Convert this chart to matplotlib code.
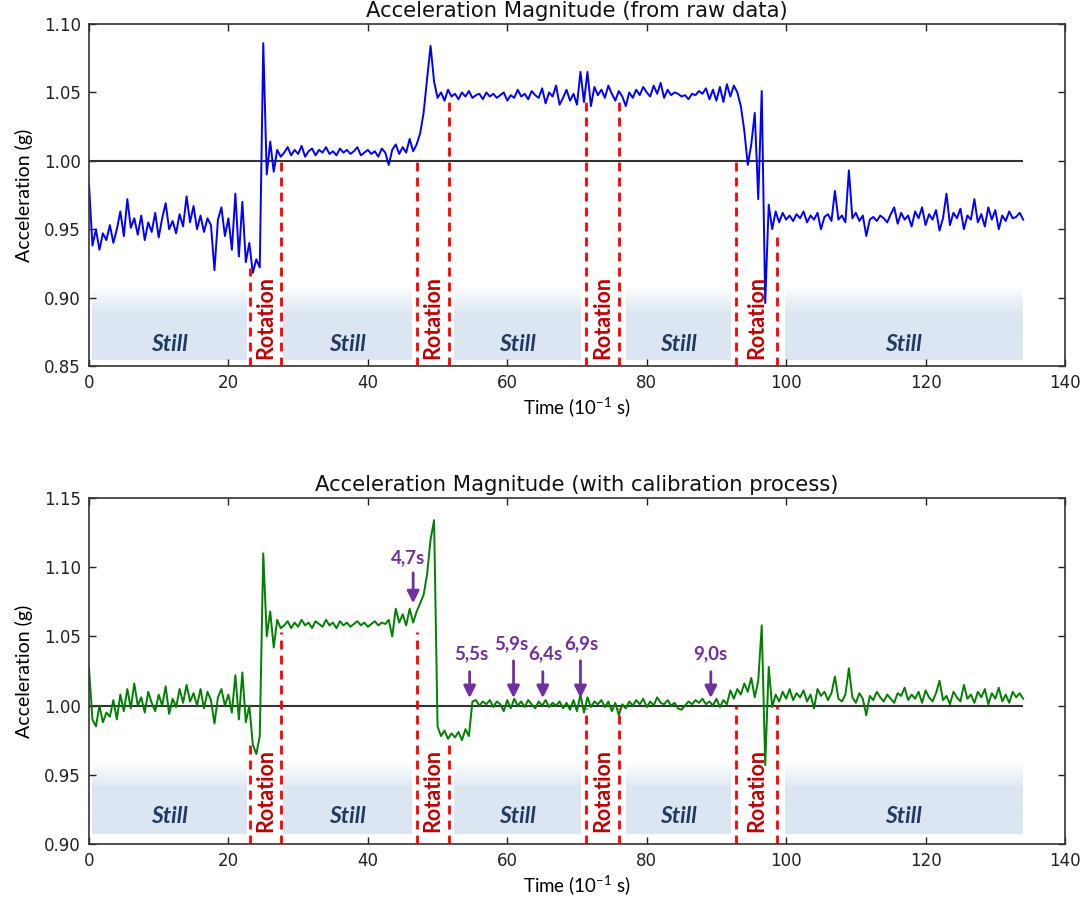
import numpy as np
import matplotlib
matplotlib.use('Agg')
import matplotlib.pyplot as plt
from matplotlib.colors import to_rgb

# ---------------- data ----------------
STEP = 0.5  # sample spacing (10^-1 s)

raw_vals = [
    # 0 .. 22.5
    0.983, 0.938, 0.950, 0.935, 0.947, 0.942, 0.953, 0.940, 0.950, 0.963,
    0.945, 0.972, 0.951, 0.958, 0.946, 0.960, 0.942, 0.955, 0.948, 0.962,
    0.944, 0.958, 0.969, 0.950, 0.956, 0.947, 0.961, 0.952, 0.974, 0.955,
    0.967, 0.950, 0.960, 0.948, 0.958, 0.953, 0.920, 0.957, 0.966, 0.945,
    0.958, 0.935, 0.976, 0.930, 0.970, 0.926,
    # 23 .. 27.5
    0.940, 0.918, 0.928, 0.922, 1.086, 0.990, 1.014, 0.992, 1.008, 1.003,
    # 28 .. 47.5
    1.006, 1.010, 1.004, 1.008, 1.005, 1.011, 1.003, 1.007, 1.009, 1.004,
    1.008, 1.006, 1.010, 1.005, 1.007, 1.004, 1.009, 1.006, 1.008, 1.005,
    1.007, 1.010, 1.004, 1.006, 1.008, 1.005, 1.007, 1.003, 1.009, 1.006,
    0.997, 1.008, 1.012, 1.005, 1.010, 1.006, 1.016, 1.007, 1.012, 1.020,
    # 48 .. 52.5
    1.035, 1.060, 1.084, 1.058, 1.046, 1.050, 1.044, 1.052, 1.047, 1.049,
    # 53 .. 72.5
    1.045, 1.050, 1.047, 1.051, 1.046, 1.048, 1.049, 1.045, 1.050, 1.047,
    1.049, 1.046, 1.048, 1.050, 1.044, 1.048, 1.046, 1.052, 1.047, 1.049,
    1.045, 1.051, 1.048, 1.046, 1.053, 1.042, 1.050, 1.047, 1.055, 1.041,
    1.046, 1.052, 1.044, 1.049, 1.041, 1.065, 1.043, 1.065, 1.040, 1.054,
    # 73 .. 92.5
    1.048, 1.052, 1.046, 1.055, 1.049, 1.044, 1.051, 1.047, 1.040, 1.050,
    1.046, 1.052, 1.048, 1.054, 1.050, 1.047, 1.055, 1.049, 1.057, 1.046,
    1.052, 1.048, 1.050, 1.049, 1.047, 1.048, 1.045, 1.049, 1.048, 1.051,
    1.049, 1.053, 1.045, 1.052, 1.044, 1.054, 1.043, 1.056, 1.047, 1.055,
    # 93 .. 97.5
    1.050, 1.040, 1.022, 0.997, 1.012, 1.035, 0.972, 1.051, 0.896, 0.968,
    # 98 .. 134
    0.950, 0.963, 0.955, 0.962, 0.957, 0.960, 0.956, 0.961, 0.958, 0.963,
    0.955, 0.960, 0.957, 0.962, 0.950, 0.959, 0.961, 0.956, 0.978, 0.957,
    0.960, 0.955, 0.993, 0.958, 0.962, 0.956, 0.960, 0.945, 0.957, 0.959,
    0.956, 0.960, 0.958, 0.955, 0.961, 0.966, 0.954, 0.962, 0.957, 0.960,
    0.952, 0.963, 0.958, 0.966, 0.953, 0.961, 0.957, 0.964, 0.949, 0.958,
    0.976, 0.953, 0.962, 0.958, 0.965, 0.950, 0.960, 0.957, 0.972, 0.955,
    0.961, 0.952, 0.966, 0.957, 0.964, 0.950, 0.960, 0.956, 0.963, 0.958,
    0.959, 0.962, 0.957,
]

cal_vals = [
    # 0 .. 22.5
    1.027, 0.990, 0.985, 1.000, 0.988, 0.995, 0.992, 1.004, 0.990, 1.008,
    0.996, 1.012, 0.998, 1.016, 1.000, 1.006, 0.995, 1.010, 1.002, 0.996,
    1.008, 1.000, 1.014, 0.994, 1.005, 0.999, 1.012, 1.002, 1.015, 1.003,
    1.009, 1.000, 1.012, 0.998, 1.010, 1.004, 0.987, 1.006, 1.012, 1.000,
    1.008, 0.995, 1.022, 0.990, 1.024, 0.988,
    # 23 .. 27.5
    1.000, 0.972, 0.965, 0.978, 1.110, 1.050, 1.068, 1.042, 1.062, 1.056,
    # 28 .. 47.5
    1.058, 1.061, 1.056, 1.060, 1.057, 1.062, 1.058, 1.060, 1.056, 1.061,
    1.059, 1.057, 1.062, 1.058, 1.060, 1.056, 1.061, 1.058, 1.060, 1.057,
    1.059, 1.061, 1.058, 1.060, 1.057, 1.059, 1.061, 1.058, 1.060, 1.059,
    1.062, 1.050, 1.070, 1.060, 1.066, 1.058, 1.070, 1.060, 1.068, 1.074,
    # 48 .. 52.5
    1.080, 1.095, 1.120, 1.134, 0.985, 0.978, 0.982, 0.976, 0.980, 0.977,
    # 53 .. 72.5
    0.981, 0.975, 0.983, 0.978, 1.003, 1.004, 1.000, 1.003, 1.001, 1.004,
    0.999, 1.003, 1.001, 0.996, 1.004, 0.998, 1.005, 1.000, 1.003, 0.999,
    1.004, 1.001, 0.998, 1.003, 1.000, 1.004, 0.999, 1.002, 1.000, 1.003,
    0.998, 1.002, 0.997, 1.004, 0.996, 1.008, 0.995, 1.006, 0.999, 1.003,
    # 73 .. 92.5
    1.001, 1.004, 0.999, 1.003, 0.996, 1.002, 0.993, 1.001, 0.998, 1.003,
    1.000, 1.004, 1.001, 1.005, 0.999, 1.003, 1.000, 1.006, 1.002, 1.001,
    1.004, 1.000, 1.002, 0.998, 0.997, 1.000, 1.003, 1.001, 1.004, 1.002,
    1.005, 1.001, 1.003, 1.000, 1.005, 0.999, 1.004, 1.001, 1.011, 1.005,
    # 93 .. 97.5
    1.012, 1.008, 1.016, 1.010, 1.020, 1.006, 1.018, 1.058, 0.957, 1.028,
    # 98 .. 134
    0.999, 1.008, 1.003, 1.010, 1.005, 1.012, 1.004, 1.009, 1.006, 1.011,
    1.003, 1.008, 0.998, 1.012, 1.007, 1.010, 1.004, 1.009, 1.021, 1.005,
    1.003, 1.008, 1.027, 1.006, 1.002, 1.009, 1.005, 0.993, 1.007, 1.004,
    1.010, 1.006, 1.003, 1.008, 1.005, 1.002, 1.009, 1.007, 1.013, 1.004,
    1.008, 1.005, 1.010, 1.002, 1.011, 1.006, 1.003, 1.009, 1.018, 1.004,
    1.007, 1.001, 1.010, 1.006, 1.003, 1.015, 1.005, 1.008, 1.002, 1.010,
    1.006, 1.012, 1.001, 1.009, 1.005, 1.013, 1.003, 1.008, 1.002, 1.010,
    1.006, 1.009, 1.005,
]

rot_bounds = [23.1, 27.5, 47.0, 51.7, 71.3, 76.0, 92.8, 98.7]
raw_bound_tops = [0.922, 1.000, 1.000, 1.046, 1.043, 1.046, 1.000, 0.947]
cal_bound_tops = [0.975, 1.053, 1.053, 0.975, 0.998, 0.998, 1.000, 1.000]

still_start = [0.5, 27.8, 52.4, 77.0, 99.8]
still_end = [22.6, 46.2, 70.5, 92.0, 133.8]

arrow_labels = ['4,7s', '5,5s', '5,9s', '6,4s', '6,9s', '9,0s']
arrow_x = [46.5, 54.6, 60.9, 65.1, 70.5, 89.2]
arrow_tail = [1.096, 1.0245, 1.0324, 1.0245, 1.0324, 1.0245]
arrow_tip = [1.074, 1.0055, 1.0055, 1.0055, 1.0055, 1.0055]
label_x = [45.8, 54.9, 60.6, 65.5, 70.7, 89.2]
label_y = [1.107, 1.0375, 1.045, 1.0375, 1.045, 1.0375]

# ---------------- styling ----------------
BOX_COLOR = '#DCE6F2'
STILL_COLOR = '#1F3B63'
ROT_COLOR = '#C00000'
ARROW_COLOR = '#7030A0'
HUMANIST = ['Lato', 'DejaVu Sans']

plt.rcParams['font.family'] = ['DejaVu Sans']
plt.rcParams['mathtext.fontset'] = 'custom'
plt.rcParams['mathtext.rm'] = 'Lato'
plt.rcParams['mathtext.it'] = 'Lato:italic'
plt.rcParams['mathtext.bf'] = 'Lato:bold'
plt.rcParams['mathtext.default'] = 'rm'

fig = plt.figure(figsize=(10.81, 9.10), dpi=100)
ax1 = fig.add_axes([0.0823, 0.5978, 0.9029, 0.3758])
ax2 = fig.add_axes([0.0823, 0.0725, 0.9029, 0.3802])


def gradient_box(ax, x0, x1, y0, y1):
    n = 100
    frac = np.linspace(0, 1, n)  # 0 at top
    w = np.clip(frac / 0.38, 0, 1)
    c = np.array(to_rgb(BOX_COLOR))
    rgb = (1 - w)[:, None] * np.ones(3)[None, :] + w[:, None] * c[None, :]
    img = rgb[:, None, :]
    ax.imshow(img, extent=(x0, x1, y0, y1), aspect='auto', origin='upper',
              interpolation='bilinear', zorder=0.5)


def setup(ax, vals, color, ylim, yticks, tops, box_y, still_y, rot_y, title):
    t = np.arange(len(vals)) * STEP
    for s, e in zip(still_start, still_end):
        gradient_box(ax, s, e, box_y[0], box_y[1])
        ax.text((s + e) / 2, still_y, 'Still', ha='center', va='center',
                fontsize=16.5, fontweight='bold', fontstyle='italic',
                color=STILL_COLOR, family=HUMANIST, zorder=3)
    ax.hlines(1.0, t[0], t[-1], color='#333333', lw=1.5, zorder=2)
    ax.plot(t, vals, color=color, lw=1.4, zorder=2.5)
    ax.vlines(rot_bounds, ylim[0], tops, colors='#FF0000', lw=2,
              linestyles=(0, (3.2, 2.2)), zorder=3)
    for i in range(0, len(rot_bounds), 2):
        ax.text((rot_bounds[i] + rot_bounds[i + 1]) / 2, rot_y, 'Rotation',
                rotation=90, ha='center', va='center', fontsize=15.5,
                fontweight='bold', color=ROT_COLOR, family=HUMANIST, zorder=3)
    ax.set_xlim(0, 140)
    ax.set_ylim(*ylim)
    ax.set_xticks(range(0, 141, 20))
    ax.set_yticks(yticks)
    ax.set_yticklabels([f'{v:.2f}' for v in yticks])
    ax.tick_params(direction='in', top=True, right=True, length=5,
                   labelsize=12, width=1, colors='#222222', pad=6)
    for sp in ax.spines.values():
        sp.set_linewidth(1.2)
        sp.set_color('#333333')
    ax.set_title(title, fontsize=15.2, pad=5, color='#111111')
    ax.set_xlabel(r'Time (10$^{-1}$ s)', fontsize=13.5, family=HUMANIST,
                  labelpad=2)
    ax.set_ylabel('Acceleration (g)', fontsize=14, family=HUMANIST,
                  labelpad=8)


setup(ax1, raw_vals, '#0000FF', (0.85, 1.10), [0.85, 0.90, 0.95, 1.00, 1.05, 1.10],
      raw_bound_tops, (0.8545, 0.9090), 0.8658, 0.8855,
      'Acceleration Magnitude (from raw data)')
setup(ax2, cal_vals, '#008000', (0.90, 1.15), [0.90, 0.95, 1.00, 1.05, 1.10, 1.15],
      cal_bound_tops, (0.9075, 0.9600), 0.9200, 0.9390,
      'Acceleration Magnitude (with calibration process)')

for lab, x, tail, tip, lx, ly in zip(arrow_labels, arrow_x, arrow_tail, arrow_tip,
                                     label_x, label_y):
    ax2.annotate('', xy=(x, tip), xytext=(x, tail),
                 arrowprops=dict(arrowstyle='-|>', color=ARROW_COLOR, lw=2,
                                 mutation_scale=18, shrinkA=0, shrinkB=0),
                 zorder=4)
    ax2.text(lx, ly, lab, ha='center', va='center', fontsize=13.5,
             fontweight='bold', color=ARROW_COLOR, family=HUMANIST, zorder=4)

fig.savefig('out.png', dpi=100)
